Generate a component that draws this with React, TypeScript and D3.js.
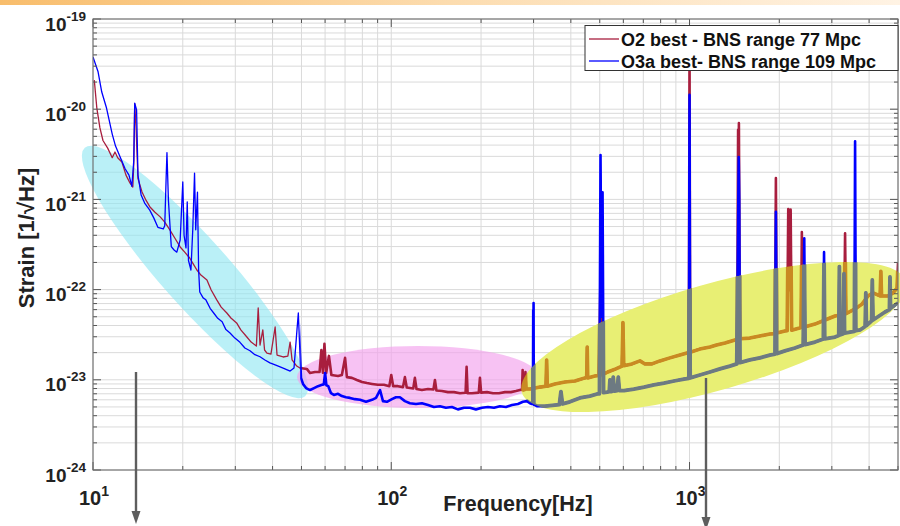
import React from 'react';
import * as d3 from 'd3';

// O2 best (red) amplitude spectral density: [frequency Hz, strain 1/sqrt(Hz)]
const o2Points: [number, number][] = [
  [10.1, 2.1e-20], [10.3, 1.03e-20], [10.55, 6.2e-21], [10.8, 4.5e-21], [11.2, 3.7e-21],
  [11.6, 2.9e-21], [11.85, 3.35e-21], [12.1, 2.9e-21], [12.5, 2.6e-21], [12.9, 1.86e-21],
  [13.3, 1.52e-21], [13.6, 1.37e-21], [13.7, 2.5e-21], [13.8, 1.15e-20], [13.95, 6e-21],
  [14.15, 1.7e-21], [14.6, 1.21e-21], [15.05, 9.8e-22], [15.5, 8.3e-22], [16.1, 7.25e-22],
  [16.8, 6.4e-22], [17.4, 5.6e-22], [18.1, 4.6e-22], [18.8, 3.73e-22], [19.6, 2.97e-22],
  [20.3, 2.6e-22], [21.1, 2.24e-22], [21.8, 1.87e-22], [22.3, 1.65e-22], [23.0, 1.45e-22],
  [24.1, 1.28e-22], [24.9, 9.9e-23], [26.0, 7.7e-23], [26.9, 6.4e-23], [28.1, 5.5e-23],
  [29.0, 4.84e-23], [30.3, 4.27e-23], [31.3, 3.57e-23], [32.8, 2.98e-23], [33.9, 2.62e-23],
  [35.3, 2.37e-23], [35.8, 6.25e-23], [36.3, 2.43e-23], [37.1, 3.57e-23], [37.6, 2.14e-23],
  [38.3, 1.98e-23], [39.5, 1.93e-23], [40.8, 3.85e-23], [41.4, 1.88e-23], [43.4, 1.79e-23],
  [45.0, 1.83e-23], [45.8, 2.62e-23], [46.5, 1.66e-23], [48.2, 1.42e-23], [49.4, 1.35e-23],
  [52.1, 1.32e-23], [53.4, 1.19e-23], [55.5, 1.22e-23], [57.5, 1.22e-23], [58.3, 2.14e-23],
  [59.0, 1.2e-23], [59.7, 2.5e-23], [60.5, 1.19e-23], [61.8, 1.84e-23], [63.0, 1.13e-23],
  [66.3, 1.1e-23], [68.3, 1.13e-23], [70.0, 1.75e-23], [71.0, 1.07e-23], [73.8, 1.05e-23],
  [76.7, 9.95e-24], [79.8, 9.45e-24], [82.9, 9.2e-24], [86.2, 9.0e-24], [90.2, 8.8e-24],
  [94.5, 8.8e-24], [98.5, 8.5e-24], [100, 1.13e-23], [101.5, 8.5e-24], [105.3, 8.5e-24],
  [109.5, 8.3e-24], [111.1, 1.07e-23], [112.7, 8.2e-24], [115.5, 8.1e-24], [118.5, 8.0e-24],
  [120, 1.05e-23], [121.5, 7.9e-24], [126.7, 7.7e-24], [132.8, 7.9e-24], [138.5, 7.8e-24],
  [140.1, 9.95e-24], [141.7, 7.6e-24], [147.9, 7.5e-24], [154.9, 7.3e-24], [162.3, 7.3e-24],
  [170, 7.1e-24], [177.5, 7.2e-24], [178.9, 1.39e-23], [180.3, 7.1e-24], [186.4, 7.1e-24],
  [196.5, 7.2e-24], [198.3, 1.05e-23], [200.1, 7.2e-24], [209.4, 7.3e-24], [219.3, 7.1e-24],
  [229.6, 7.1e-24], [240.5, 7.3e-24], [251.8, 7.3e-24], [261.8, 7.5e-24], [270, 7.7e-24],
  [274.5, 7.8e-24], [275.7, 1.28e-23], [277, 7.7e-24], [280.5, 7.8e-24], [281.7, 1.22e-23],
  [283, 7.9e-24], [291.7, 7.9e-24], [303.3, 8.1e-24], [315.1, 8.3e-24], [330.1, 8.5e-24],
  [331.9, 1.66e-23], [333.5, 8.5e-24], [353.8, 9.0e-24], [382.2, 9.45e-24], [412.9, 9.7e-24],
  [446.1, 1.05e-23], [452, 1.06e-23], [453.9, 2.31e-23], [455.8, 1.05e-23], [481.7, 1.1e-23],
  [497, 1.12e-23], [503, 1.38e-22], [509, 1.13e-23], [532, 1.22e-23], [566, 1.32e-23],
  [594, 1.42e-23], [598, 4.3e-23], [602, 1.43e-23], [641, 1.5e-23], [682, 1.62e-23],
  [708.7, 1.5e-23], [747.8, 1.5e-23], [795.6, 1.62e-23], [859.5, 1.75e-23], [928.6, 1.88e-23],
  [980, 1.98e-23], [995, 2.0e-23], [1000, 5e-20], [1005, 2.02e-23], [1083, 2.19e-23],
  [1171, 2.31e-23], [1232, 2.43e-23], [1315, 2.56e-23], [1420, 2.76e-23], [1445, 2.8e-23],
  [1455, 5.9e-21], [1460, 2e-21], [1464, 7.0e-21], [1475, 2.85e-23], [1593, 2.9e-23],
  [1721, 3.06e-23], [1859, 3.22e-23], [1935, 3.25e-23], [1948, 1.73e-21], [1960, 3.3e-23],
  [2088, 3.48e-23], [2125, 3.5e-23], [2143, 7.8e-22], [2160, 1e-22], [2183, 7.7e-22],
  [2200, 3.55e-23], [2338, 3.75e-23], [2365, 3.8e-23], [2380, 4.35e-22], [2395, 3.8e-23],
  [2634, 4.15e-23], [2847, 4.6e-23], [3075, 5.1e-23], [3300, 5.3e-23], [3323, 4.2e-22],
  [3345, 5.4e-23], [3589, 6.1e-23], [3787, 6.9e-23], [3967, 8.5e-23], [4124, 9.2e-23],
  [4354, 8.5e-23], [4380, 1.6e-22], [4405, 8.5e-23], [4630, 8.5e-23], [4813, 9.2e-23],
  [4964, 1.04e-22], [5000, 1.97e-22],
];

// O3a best (blue) amplitude spectral density: [frequency Hz, strain 1/sqrt(Hz)]
const o3aPoints: [number, number][] = [
  [10, 3.8e-20], [10.4, 2.6e-20], [10.7, 1.55e-20], [11.1, 1.03e-20], [11.6, 5.3e-21],
  [11.9, 3.9e-21], [12.3, 3.0e-21], [12.8, 2.2e-21], [13.2, 1.86e-21], [13.5, 1.4e-21],
  [13.7, 2.7e-21], [13.8, 1.17e-20], [14.0, 9.8e-21], [14.15, 1.86e-21], [14.5, 1.12e-21],
  [14.9, 9.1e-22], [15.5, 7.6e-22], [16.0, 6.2e-22], [16.5, 4.9e-22], [17.2, 4.7e-22],
  [17.4, 5.1e-22], [17.6, 1.86e-21], [17.7, 3.3e-21], [17.9, 9.8e-22], [18.3, 3.0e-22],
  [18.7, 2.75e-22], [19.1, 2.6e-22], [19.6, 3.55e-22], [20.0, 1.56e-21], [20.2, 4.0e-22],
  [20.5, 2.9e-22], [20.7, 9.4e-22], [20.9, 2.1e-22], [21.3, 1.65e-22], [21.6, 4.6e-22],
  [21.9, 1.96e-21], [22.1, 4.6e-22], [22.4, 1.2e-21], [22.6, 1.65e-22], [22.8, 9.4e-23],
  [23.4, 8.1e-23], [23.9, 7.7e-23], [24.7, 6.2e-23], [25.5, 5.4e-23], [26.2, 4.8e-23],
  [27.1, 4.4e-23], [27.9, 3.6e-23], [28.8, 3.3e-23], [29.9, 2.9e-23], [31.1, 2.6e-23],
  [32.3, 2.25e-23], [33.6, 2.1e-23], [34.9, 1.9e-23], [36.3, 1.8e-23], [37.7, 1.66e-23],
  [39.2, 1.54e-23], [40.8, 1.46e-23], [42.4, 1.39e-23], [44.0, 1.32e-23], [45.8, 1.25e-23],
  [47.2, 1.35e-23], [48.3, 3.6e-23], [48.8, 5.5e-23], [49.2, 2.8e-23], [49.8, 1.05e-23],
  [50.6, 9.0e-24], [51.8, 8.1e-24], [53.4, 7.7e-24], [55.1, 8.1e-24], [56.8, 8.5e-24],
  [58.6, 8.8e-24], [59.4, 8.9e-24], [60.0, 1.19e-23], [60.6, 8.7e-24], [61.5, 8.5e-24],
  [62.8, 7.1e-24], [64.2, 6.8e-24], [66.3, 7.0e-24], [68.3, 6.6e-24], [70.5, 6.4e-24],
  [72.7, 6.3e-24], [75.6, 6.1e-24], [78.6, 6.0e-24], [82.3, 5.7e-24], [86.2, 6.0e-24],
  [88.9, 6.3e-24], [91.7, 7.7e-24], [93.8, 5.8e-24], [96.7, 5.7e-24], [100.5, 6.1e-24],
  [103.7, 6.4e-24], [106.9, 6.4e-24], [111.1, 5.8e-24], [115.5, 5.5e-24], [121, 5.4e-24],
  [126.7, 5.5e-24], [132.8, 5.25e-24], [139, 5.0e-24], [145.6, 5.1e-24], [152.5, 4.9e-24],
  [159.7, 5.0e-24], [167.3, 4.7e-24], [175.3, 4.9e-24], [183.6, 4.9e-24], [192.2, 4.7e-24],
  [201.4, 4.9e-24], [211, 5.0e-24], [221, 4.9e-24], [231.4, 5.1e-24], [242.4, 5.0e-24],
  [253.9, 5.25e-24], [265.9, 5.4e-24], [276.4, 5.7e-24], [285, 5.8e-24], [291.7, 5.5e-24],
  [296.2, 5.4e-24], [298.5, 5.4e-24], [299.2, 5.9e-23], [299.6, 2.0e-23], [300.0, 7.1e-23],
  [300.5, 5.3e-24], [303.3, 5.25e-24], [308, 5.1e-24], [327.5, 5.1e-24], [353.8, 5.25e-24],
  [366, 5.3e-24], [370.6, 7.4e-24], [375, 5.4e-24], [397.2, 5.7e-24], [429, 6.3e-24],
  [463.4, 6.6e-24], [493, 7.0e-24], [499, 7.0e-24], [503, 3.1e-21], [507, 5e-23],
  [511, 1.2e-21], [515, 7.2e-24], [529, 7.3e-24], [538, 7.4e-24], [541, 1.0e-23],
  [545, 7.4e-24], [552, 7.5e-24], [555, 1.07e-23], [560, 7.5e-24], [572, 7.6e-24],
  [577, 1.07e-23], [582, 7.6e-24], [603, 7.6e-24], [651, 7.9e-24], [704, 8.3e-24],
  [760, 8.8e-24], [821, 9.2e-24], [887, 9.7e-24], [958, 1.02e-23], [995, 1.04e-23],
  [1000, 1.44e-20], [1005, 1.05e-23], [1083, 1.13e-23], [1171, 1.22e-23], [1264, 1.32e-23],
  [1366, 1.42e-23], [1440, 1.5e-23], [1462, 2.95e-21], [1468, 1.0e-21], [1476, 1.55e-23],
  [1593, 1.66e-23], [1721, 1.75e-23], [1859, 1.88e-23], [1935, 1.93e-23], [1948, 7.3e-22],
  [1960, 1.95e-23], [2088, 2.09e-23], [2256, 2.25e-23], [2405, 2.43e-23], [2425, 3.7e-22],
  [2440, 2.45e-23], [2634, 2.62e-23], [2810, 2.83e-23], [2825, 2.6e-22], [2840, 2.85e-23],
  [3075, 2.98e-23], [3165, 3.1e-23], [3180, 1.8e-22], [3195, 3.15e-23], [3280, 3.25e-23],
  [3295, 1.5e-22], [3310, 3.3e-23], [3570, 3.45e-23], [3590, 4.4e-21], [3610, 3.5e-23],
  [3730, 3.57e-23], [3880, 3.9e-23], [3900, 9.2e-23], [3920, 4.0e-23], [4080, 4.5e-23],
  [4100, 1.28e-22], [4124, 4.6e-23], [4523, 5.65e-23], [4680, 6.0e-23], [4700, 1.38e-22],
  [4720, 6.2e-23], [5000, 7.1e-23],
];

const xDomain: [number, number] = [10, 5000];
const yDomain: [number, number] = [1e-24, 1e-19];
const xTickExponents = [1, 2, 3];
const yTickExponents = [-19, -20, -21, -22, -23, -24];
const legendLabels = ['O2 best - BNS range 77 Mpc', 'O3a best- BNS range 109 Mpc'];
const seriesColors = ['#a81e3e', '#0000ff'];
const xLabel = 'Frequency[Hz]';
const yLabel = 'Strain [1/\u221AHz]';

const FONT = "'Liberation Sans', Arial, Helvetica, sans-serif";

export default function App() {
  const W = 900, H = 526;
  const L = 93, R = 898, T = 19, B = 470;
  const x = d3.scaleLog().domain(xDomain).range([L, R]);
  const y = d3.scaleLog().domain(yDomain).range([B, T]);
  const line = d3.line<[number, number]>().x(d => x(d[0])).y(d => y(d[1]));
  const o2Path = line(o2Points) || '';
  const o3aPath = line(o3aPoints) || '';

  const xGrid: number[] = [];
  for (let e = 1; e <= 3; e++) for (let k = 1; k <= 9; k++) {
    const v = k * Math.pow(10, e);
    if (v <= xDomain[1] + 1e-9) xGrid.push(v);
  }
  const yGrid: number[] = [];
  for (let e = -24; e <= -20; e++) for (let k = 1; k <= 9; k++) yGrid.push(k * Math.pow(10, e));
  yGrid.push(1e-19);

  const splitX = x(49.5);
  const yc = { cx: 714, cy: 337, rx: 200, ry: 53, rot: -16 };

  return (
    <svg width={W} height={H} style={{ position: 'absolute', left: 0, top: 0, background: '#fff' }} fontFamily={FONT}>
      <defs>
        <linearGradient id="topband" x1="0" x2="1" y1="0" y2="0">
          <stop offset="0" stopColor="#f8bd6c" />
          <stop offset="0.5" stopColor="#fcdcaf" />
          <stop offset="1" stopColor="#fff3e4" />
        </linearGradient>
        <clipPath id="plot"><rect x={L} y={T} width={R - L} height={B - T} /></clipPath>
        <clipPath id="low"><rect x={L} y={T} width={splitX - L} height={B - T} /></clipPath>
        <clipPath id="high"><rect x={splitX} y={T} width={R - splitX} height={B - T} /></clipPath>
        <clipPath id="yellowClip">
          <ellipse cx={yc.cx} cy={yc.cy} rx={yc.rx} ry={yc.ry} transform={`rotate(${yc.rot} ${yc.cx} ${yc.cy})`} />
        </clipPath>
      </defs>
      <rect x={0} y={0} width={W} height={H} fill="#fff" />
      <rect x={0} y={0} width={W} height={5} fill="url(#topband)" />

      {/* grid */}
      <g stroke="#dadada" strokeWidth={1}>
        {xGrid.map(v => <line key={'gx' + v} x1={x(v)} x2={x(v)} y1={T} y2={B} />)}
        {yGrid.map(v => <line key={'gy' + v} x1={L} x2={R} y1={y(v)} y2={y(v)} />)}
      </g>

      {/* highlight ellipses */}
      <ellipse cx={195} cy={272} rx={166} ry={34} transform="rotate(48.4 195 272)" fill="#8fe6f2" opacity={0.62} />
      <ellipse cx={418} cy={377} rx={121} ry={31} fill="#f2a2ec" opacity={0.65} />
      <ellipse cx={yc.cx} cy={yc.cy} rx={yc.rx} ry={yc.ry} transform={`rotate(${yc.rot} ${yc.cx} ${yc.cy})`} fill="#e8ef74" />

      {/* curves */}
      <g clipPath="url(#plot)" fill="none" strokeLinejoin="round">
        <g clipPath="url(#low)">
          <path d={o2Path} stroke={seriesColors[0]} strokeWidth={1.3} />
          <path d={o3aPath} stroke={seriesColors[1]} strokeWidth={1.3} />
        </g>
        <g clipPath="url(#high)">
          <path d={o2Path} stroke={seriesColors[0]} strokeWidth={2.6} />
          <path d={o3aPath} stroke={seriesColors[1]} strokeWidth={2.6} />
        </g>
        <g clipPath="url(#yellowClip)">
          <path d={o2Path} stroke="#c98a22" strokeWidth={3.6} />
          <path d={o3aPath} stroke="#6d7a82" strokeWidth={3.8} />
        </g>
      </g>

      {/* ticks */}
      <g stroke="#555" strokeWidth={1}>
        {xGrid.map(v => {
          const major = Math.abs(Math.log10(v) - Math.round(Math.log10(v))) < 1e-9;
          const len = major ? 8 : 4;
          return (
            <g key={'tx' + v}>
              <line x1={x(v)} x2={x(v)} y1={B} y2={B - len} />
              <line x1={x(v)} x2={x(v)} y1={T} y2={T + len} />
            </g>
          );
        })}
        {yGrid.map(v => {
          const major = Math.abs(Math.log10(v) - Math.round(Math.log10(v))) < 1e-9;
          const len = major ? 8 : 4;
          return (
            <g key={'ty' + v}>
              <line x1={L} x2={L + len} y1={y(v)} y2={y(v)} />
              <line x1={R} x2={R - len} y1={y(v)} y2={y(v)} />
            </g>
          );
        })}
      </g>
      <rect x={L} y={T} width={R - L} height={B - T} fill="none" stroke="#6e6e6e" strokeWidth={1.1} />

      {/* legend */}
      <g>
        <rect x={585} y={25.5} width={313} height={45} fill="#fff" stroke="#333" strokeWidth={1} />
        {legendLabels.map((lab, i) => (
          <g key={lab}>
            <line x1={589} x2={619} y1={39 + i * 22} y2={39 + i * 22} stroke={seriesColors[i]} strokeWidth={1.3} />
            <text x={621} y={45.5 + i * 22} fontSize={18} fontWeight="bold" fill="#111">{lab}</text>
          </g>
        ))}
      </g>

      {/* tick labels */}
      {yTickExponents.map(e => (
        <text key={'yl' + e} x={86} y={y(Math.pow(10, e)) + 11.5} textAnchor="end" fontSize={19} fontWeight="bold" fill="#222">
          10<tspan dy={-10} fontSize={13.5}>{e}</tspan>
        </text>
      ))}
      {xTickExponents.map(e => (
        <text key={'xl' + e} x={x(Math.pow(10, e)) + 1} y={505} textAnchor="middle" fontSize={20} fontWeight="bold" fill="#222">
          10<tspan dy={-9} fontSize={14}>{e}</tspan>
        </text>
      ))}

      {/* axis titles */}
      <text x={518} y={511} textAnchor="middle" fontSize={21.5} fontWeight="bold" fill="#222">{xLabel}</text>
      <text transform="translate(34,238) rotate(-90)" textAnchor="middle" fontSize={22} fontWeight="bold" fill="#222">{yLabel}</text>

      {/* arrows */}
      <g stroke="#5e5e5e" fill="#5e5e5e">
        <line x1={136} x2={136} y1={372} y2={513} strokeWidth={2.4} />
        <path d="M131.5,511 L140.5,511 L136,524 Z" stroke="none" />
        <line x1={706} x2={706} y1={378} y2={519} strokeWidth={2.4} />
        <path d="M701.5,517 L710.5,517 L706,530 Z" stroke="none" />
      </g>
    </svg>
  );
}
